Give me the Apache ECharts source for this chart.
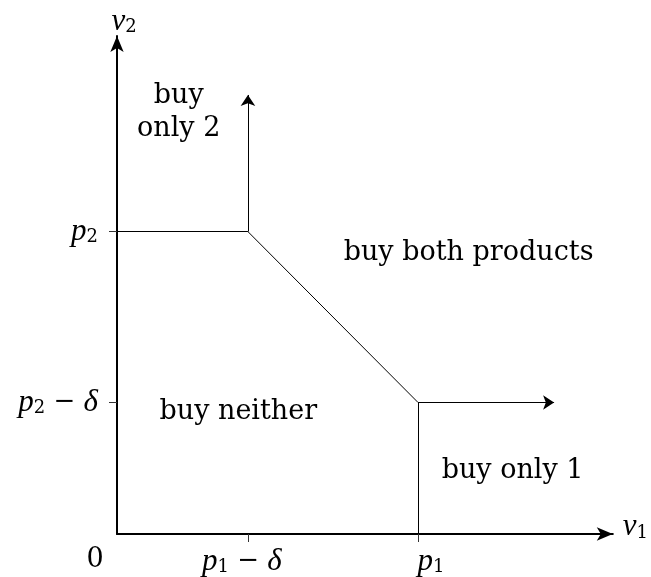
<!DOCTYPE html>
<html>
<head>
<meta charset="utf-8">
<script src="https://cdn.jsdelivr.net/npm/echarts@6/dist/echarts.min.js"></script>
<style>
  html, body { margin: 0; padding: 0; background: #fff; }
  #main { width: 651px; height: 577px; }
</style>
</head>
<body>
<div id="main"></div>
<script>
// prices in abstract units
var p1 = 10, p2 = 10, delta = 5.65;
var axisMax = 16.47;
var arrowEnd = 14.52;

var xTicks = [0, p1 - delta, p1];
var xTickLabels = ['{z|0}', '{i|p}{s|1}{m| − }{i|δ}{gr| }', '{gl| }{i|p}{s|1}'];
var yTicks = [p2 - delta, p2];
var yTickLabels = ['{i|p}{s|2}{m| − }{i|δ}', '{i|p}{s|2}'];

// boundary segments between regions
var plainSegments = [
    [[0, p2], [p1 - delta, p2]],
    [[p1 - delta, p2], [p1, p2 - delta]],
    [[p1, p2 - delta], [p1, 0]]
];
var arrowSegments = [
    [[p1 - delta, p2], [p1 - delta, arrowEnd]],
    [[p1, p2 - delta], [arrowEnd, p2 - delta]]
];

var regionNames = ['buy\nonly 2', 'buy both products', 'buy neither', 'buy only 1'];
var regionX = [2.05, 11.68, 4.03, 13.14];
var regionY = [13.93, 9.31, 4.03, 2.08];

var FONT = '"DejaVu Serif", serif';
var MATH = '"Liberation Serif", serif';
var rich = {
    i: { fontStyle: 'italic', fontFamily: MATH, fontSize: 31, color: '#000' },
    s: { fontFamily: FONT, fontSize: 18, color: '#000', padding: [12, 0, 0, 0] },
    m: { fontFamily: FONT, fontSize: 26, color: '#000' },
    z: { fontFamily: FONT, fontSize: 27, color: '#000', padding: [0, 44, 0, 0] },
    gl: { width: 26 },
    gr: { width: 12 }
};

function pick(ticks, labels) {
    return function (v) {
        for (var k = 0; k < ticks.length; k++) {
            if (Math.abs(ticks[k] - v) < 1e-6) return labels[k];
        }
        return '';
    };
}

var myChart = echarts.init(document.getElementById('main'));

var option = {
    animation: false,
    backgroundColor: '#fff',
    grid: { left: 117, right: 35, top: 36, bottom: 42 },
    xAxis: {
        type: 'value',
        min: 0,
        max: axisMax,
        name: '{i|v}{s|1}',
        nameLocation: 'end',
        nameGap: 10,
        nameTextStyle: {
            fontFamily: FONT, fontSize: 26, color: '#000',
            verticalAlign: 'middle', padding: [0, 0, 14, 0], rich: rich
        },
        splitLine: { show: false },
        axisLine: {
            onZero: false,
            symbol: ['none', 'arrow'],
            symbolSize: [10, 16],
            lineStyle: { color: '#000', width: 2 }
        },
        axisTick: {
            customValues: xTicks.slice(1),
            length: 8,
            lineStyle: { color: '#333', width: 1 }
        },
        axisLabel: {
            customValues: xTicks,
            margin: 12,
            fontFamily: FONT,
            fontSize: 26,
            color: '#000',
            formatter: pick(xTicks, xTickLabels),
            rich: rich
        }
    },
    yAxis: {
        type: 'value',
        min: 0,
        max: axisMax,
        name: '{i|v}{s|2}',
        nameLocation: 'end',
        nameGap: -1,
        nameTextStyle: {
            fontFamily: FONT, fontSize: 26, color: '#000',
            padding: [0, 0, 0, 14], rich: rich
        },
        splitLine: { show: false },
        axisLine: {
            onZero: false,
            symbol: ['none', 'arrow'],
            symbolSize: [10, 16],
            lineStyle: { color: '#000', width: 2 }
        },
        axisTick: {
            customValues: yTicks,
            length: 8,
            lineStyle: { color: '#333', width: 1 }
        },
        axisLabel: {
            customValues: yTicks,
            margin: 19,
            fontFamily: FONT,
            fontSize: 26,
            color: '#000',
            formatter: pick(yTicks, yTickLabels),
            rich: rich
        }
    },
    series: [
        {
            type: 'lines',
            coordinateSystem: 'cartesian2d',
            symbol: ['none', 'none'],
            lineStyle: { color: '#000', width: 1, opacity: 1 },
            data: plainSegments.map(function (s) { return { coords: s }; }),
            silent: true
        },
        {
            type: 'lines',
            coordinateSystem: 'cartesian2d',
            symbol: ['none', 'arrow'],
            symbolSize: 11,
            lineStyle: { color: '#000', width: 1, opacity: 1 },
            data: arrowSegments.map(function (s) { return { coords: s }; }),
            silent: true
        },
        {
            type: 'scatter',
            symbolSize: 0,
            silent: true,
            itemStyle: { opacity: 1 },
            data: regionNames.map(function (n, k) {
                return { name: n, value: [regionX[k], regionY[k]] };
            }),
            label: {
                show: true,
                position: 'inside',
                formatter: '{b}',
                fontFamily: FONT,
                fontSize: 27,
                lineHeight: 33,
                color: '#000',
                textBorderWidth: 0
            }
        }
    ]
};

myChart.setOption(option);
</script>
</body>
</html>
